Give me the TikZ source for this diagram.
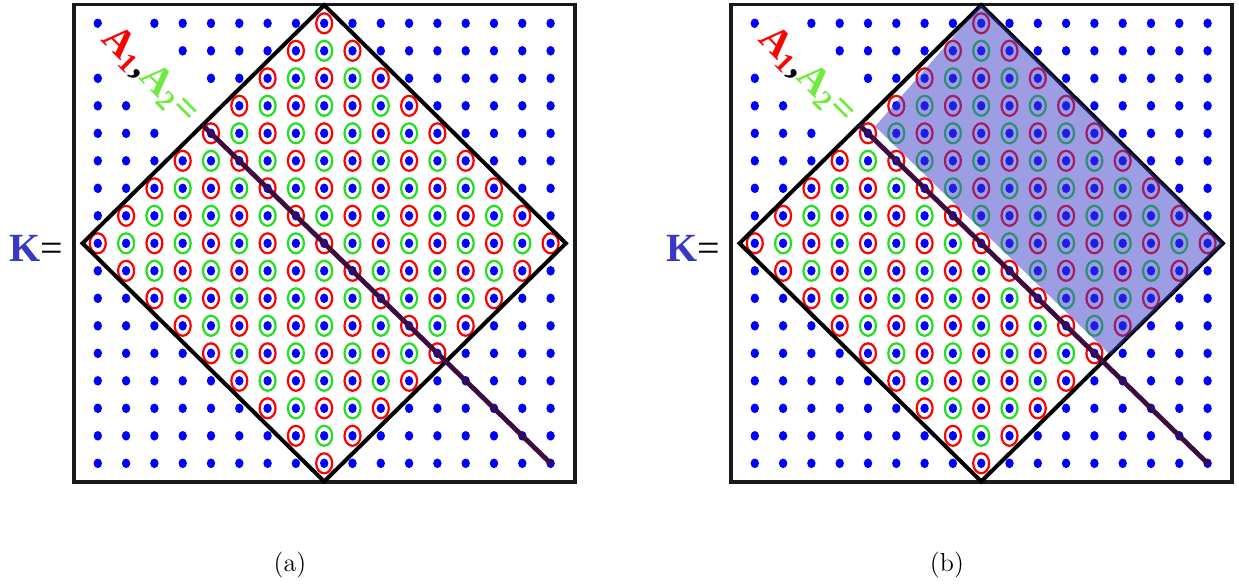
\documentclass[tikz,border=0pt]{standalone}
\usepackage{fontspec}
\newfontfamily\labelfont{Liberation Serif}
\usepackage{xcolor}

\definecolor{latblue}{RGB}{0,0,255}
\definecolor{ringred}{RGB}{255,0,0}
\definecolor{ringgreen}{RGB}{30,225,30}
\definecolor{lblgreen}{RGB}{110,235,60}
\definecolor{kblue}{RGB}{55,55,200}
\definecolor{cutpurple}{RGB}{60,12,65}
\definecolor{halfblue}{RGB}{60,60,200}

\tikzset{
  outerbox/.style={draw=black!90, line width=1.8pt},
  diamondline/.style={draw=black, line width=2pt, line join=miter},
  latpt/.style={fill=latblue},
  ring/.style={line width=1.1pt},
  cutline/.style={draw=cutpurple, line width=2.4pt, line cap=round},
  halfplane/.style={fill=halfblue, fill opacity=0.5},
  klbl/.style={font=\labelfont\fontsize{20}{24}\selectfont, inner sep=0pt},
  albl/.style={font=\labelfont\bfseries\fontsize{20}{24}\selectfont, fill=white, rotate=-45,
    minimum width=70pt, minimum height=32pt, inner sep=0pt},
  captext/.style={font=\fontsize{13}{15}\selectfont, inner sep=0pt}
}

% one panel: lattice, rings, labels, box, diamond and cut
\newcommand{\latticepanel}[1]{%
  \foreach \i in {-8,...,8}
    \foreach \j in {-8,...,8} {
      \pgfmathtruncatemacro{\dist}{abs(\i)+abs(\j)}
      \pgfmathtruncatemacro{\parity}{mod(\i+\j+16,2)}
      \ifnum\dist<9
        \ifnum\parity=0
          \draw[ring, ringred] (\i,\j) ellipse [x radius=4pt, y radius=5pt];
        \else
          \draw[ring, ringgreen] (\i,\j) ellipse [x radius=4pt, y radius=5pt];
        \fi
      \fi
      \fill[latpt] (\i,\j) ellipse [x radius=2.1pt, y radius=2.4pt];
    }
  \node[albl] (lbl-#1) at (-6.15,-6.1)
    {\textcolor{ringred}{A\textsubscript{1}}\textcolor{black}{,}\textcolor{lblgreen}{A\textsubscript{2}=}};
  \node[klbl, anchor=base east] (K-#1) at (-9.2,0.67) {\textcolor{kblue}{\bfseries K}=};
  \node[captext, anchor=base] (cap-#1) at (-1.21,11.92) {(#1)};
  \draw[outerbox] (-8.84,-8.69) rectangle (8.86,8.69);
  \draw[diamondline] (-8.54,0) -- (0,-8.66) -- (8.54,0) -- (0,8.66) -- cycle;
  \draw[cutline] (-4.25,-4.25) -- (8,8);
}

\begin{document}
\begin{tikzpicture}[x=0.5pt, y=-0.5pt]
\useasboundingbox (0,0) rectangle (1239,585);

% (a)
\begin{scope}[shift={(324.2,243.3)}, x=14.15pt, y=-13.75pt]
  \latticepanel{a}
\end{scope}

% (b) with the shaded half
\begin{scope}[shift={(981.2,243.3)}, x=14.15pt, y=-13.75pt]
  \latticepanel{b}
  \fill[halfplane] (0,-8.66) -- (8.54,0) -- (4.55,4.05) -- (-3.75,-4.25) -- cycle;
\end{scope}

\end{tikzpicture}
\end{document}
